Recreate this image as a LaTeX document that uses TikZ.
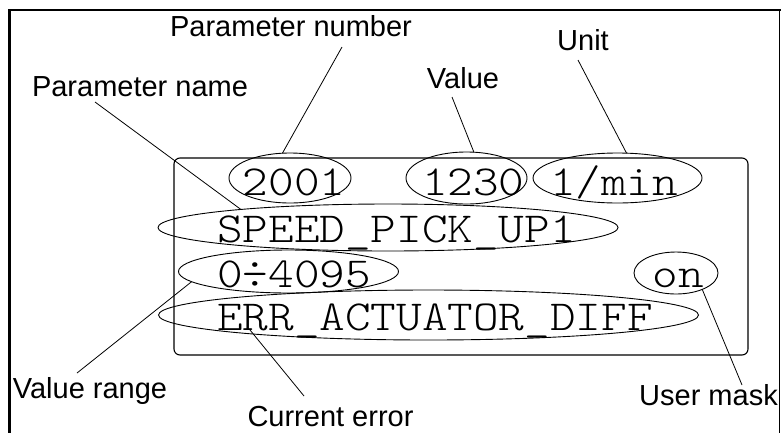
\documentclass[tikz,border=0pt]{standalone}
\usepackage{fontspec}
\setmainfont{Liberation Sans}
\newfontfamily\lcdfont{lmmonolt10-regular.otf}[FakeStretch=1.14]
\usetikzlibrary{shapes.geometric}
\begin{document}
\begin{tikzpicture}[x=1pt,y=-1pt,
  lbl/.style={font=\fontsize{29}{31}\selectfont, inner sep=0pt, anchor=base},
  lcd/.style={font=\lcdfont\fontsize{42.8}{44}\selectfont, inner sep=0pt, anchor=base west},
  oval/.style={draw, ellipse, inner sep=0pt, outer sep=0pt, line width=0.9pt},
  lead/.style={line width=0.8pt}]
\useasboundingbox (0,0) rectangle (781,432);
% outer frame
\draw[line width=2.5pt] (9.5,440) -- (9.5,10) -- (781,10);
\draw[line width=1.2pt] (779.5,10) -- (779.5,440);
% display panel
\node[draw, rounded corners=6pt, line width=1.1pt, minimum width=574pt, minimum height=197pt, inner sep=0pt] (lcdpanel) at (461,256.5) {};
% display texts
\node[lcd] (t2001) at (242.6,195) {2001};
\node[lcd] (t1230) at (421.8,195) {1230};
\node[lcd] (tmin) at (549.8,195) {1/min};
\node[lcd] (tSPEED) at (217,242) {SPEED\_PICK\_UP1};
\node[lcd] (tRange) at (217,287) {0÷4095};
\node[lcd] (tOn) at (652.2,287) {on};
\node[lcd] (tERR) at (217,330) {ERR\_ACTUATOR\_DIFF};
% ellipses
\node[oval, minimum width=122pt, minimum height=50pt] (e2001) at (290,178) {};
\node[oval, minimum width=121pt, minimum height=52pt] (e1230) at (466.5,178) {};
\node[oval, minimum width=169pt, minimum height=50pt] (emin) at (617.5,178) {};
\node[oval, minimum width=460pt, minimum height=47pt] (espeed) at (388,227.5) {};
\node[oval, minimum width=220pt, minimum height=43pt] (erange) at (288.5,271.5) {};
\node[oval, minimum width=84pt, minimum height=42pt] (eon) at (676,273) {};
\node[oval, minimum width=540pt, minimum height=50pt] (eerr) at (428.5,315) {};
% labels
\node[lbl] (lPN) at (291,36) {Parameter number};
\node[lbl] (lUnit) at (583,50) {Unit};
\node[lbl] (lVal) at (463,88) {Value};
\node[lbl] (lPName) at (140,96) {Parameter name};
\node[lbl] (lRange) at (90,398) {Value range};
\node[lbl] (lErr) at (330.5,426) {Current error};
\node[lbl, anchor=base east, fill=white] (lMask) at (778,405) {User mask};
% leaders
\coordinate (cPN) at (342,47);
\coordinate (cPName) at (95,102);
\coordinate (cVal) at (452,97);
\coordinate (cUnit) at (578,60);
\coordinate (cRange) at (77,373);
\coordinate (cErr) at (304,396);
\coordinate (cMask) at (742,385);
\draw[lead] (cPN) -- (e2001.107);
\draw[lead] (cPName) -- (espeed.173);
\draw[lead] (cVal) -- (e1230.74);
\draw[lead] (cUnit) -- (emin.70);
\draw[lead] (cRange) -- (erange.186);
\draw[lead] (cErr) -- ([xshift=33pt]tERR.base west);
\draw[lead] (cMask) -- (eon.328);
\end{tikzpicture}
\end{document}
